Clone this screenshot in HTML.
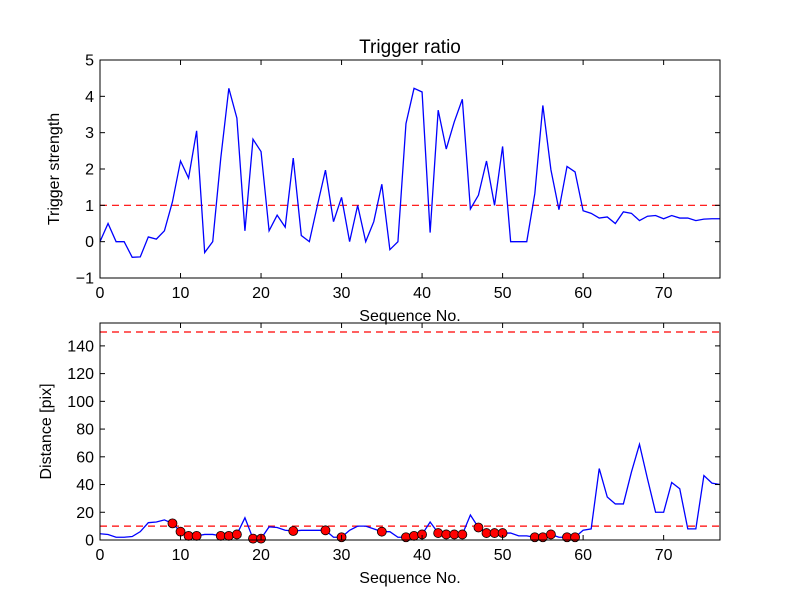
<!DOCTYPE html>
<html><head><meta charset="utf-8"><style>
body{margin:0;background:#fff;}
svg{display:block;font-family:"Liberation Sans","DejaVu Sans",sans-serif;}
</style></head><body>
<svg id="chart" width="800" height="600"></svg>
<script>
const xs = Array.from({length:78},(_,i)=>i);
const strength = [0,0.5,0,0,-0.43,-0.42,0.13,0.07,0.3,1.1,2.22,1.75,3.05,-0.3,0,2.3,4.22,3.4,0.3,2.82,2.48,0.3,0.73,0.4,2.3,0.17,0,1.0,1.97,0.55,1.22,0,1.0,0,0.55,1.58,-0.22,0,3.25,4.22,4.12,0.25,3.62,2.55,3.3,3.92,0.9,1.28,2.22,1.0,2.62,0,0,0,1.32,3.75,1.98,0.88,2.07,1.92,0.85,0.78,0.65,0.68,0.5,0.82,0.78,0.58,0.7,0.72,0.63,0.72,0.65,0.65,0.58,0.62,0.63,0.63];
const distance = [4.5,4,2,2,2.5,6,12.5,13,14.5,12,6,3,3,4,4,3,3,4,16,1,1,9.5,9,7,6.5,7,7,7,7,2,2,7,10,10,8,6,6,2,2,3,4,13,5,4,4,4,18,9,5,5,5,5,3,3,2,2,4,2,2,2,7,8,51.5,31,26,26,49,69,44,20,20,41.5,37,8,8,46.5,41,40];
const markerIdx = [9,10,11,12,15,16,17,19,20,24,28,30,35,38,39,40,42,43,44,45,47,48,49,50,54,55,56,58,59];
const topTicks = [-1,0,1,2,3,4,5];
const botTicks = [0,20,40,60,80,100,120,140];
const xTicks = [0,10,20,30,40,50,60,70];
const topThreshold = 1, botThreshold1 = 10, botThreshold2 = 150;

const NS="http://www.w3.org/2000/svg";
const svg=document.getElementById('chart');
function mk(tag,attrs,parent){const e=document.createElementNS(NS,tag);for(const k in attrs)e.setAttribute(k,attrs[k]);(parent||svg).appendChild(e);return e;}
const X0=100,X1=720;
const sx=v=>X0+(v-0)/(77-0)*(X1-X0);

function panel(name,Y0,Y1,ymin,ymax,yticks,ydata,ylabel,ylabX,thresholds,markers){
  const sy=v=>Y1-(v-ymin)/(ymax-ymin)*(Y1-Y0);
  const g=mk('g',{});
  
  
  thresholds.forEach(t=>{
    const l=mk('line',{x1:X0,x2:X1,y1:sy(t),y2:sy(t),stroke:'#ff0000','stroke-width':1.2,'stroke-dasharray':'7,5'},g);
    
    
  });
  const p=mk('polyline',{points:xs.map((x,i)=>sx(x)+','+sy(ydata[i])).join(' '),fill:'none',stroke:'#0000ff','stroke-width':1.3},g);
  
  
  if(markers){markers.forEach(i=>{
    const c=mk('circle',{cx:sx(xs[i]),cy:sy(ydata[i]),r:4.5,fill:'#ff0000',stroke:'#000','stroke-width':0.8},g);
    
    
  });}
  const fr=mk('rect',{x:X0,y:Y0,width:X1-X0,height:Y1-Y0,fill:'none',stroke:'#000','stroke-width':1},g);
  
  
  yticks.forEach(t=>{
    const y=sy(t);
    mk('line',{x1:X0,x2:X0+5,y1:y,y2:y,stroke:'#000'},g);
    mk('line',{x1:X1-5,x2:X1,y1:y,y2:y,stroke:'#000'},g);
    const tx=mk('text',{x:X0-6,y:y+5.5,'text-anchor':'end','font-size':16},g);
    tx.textContent=t<0?'\u2212'+(-t):t;
    
    
  });
  xTicks.forEach(t=>{
    const x=sx(t);
    mk('line',{x1:x,x2:x,y1:Y1,y2:Y1-5,stroke:'#000'},g);
    mk('line',{x1:x,x2:x,y1:Y0,y2:Y0+5,stroke:'#000'},g);
    const tx=mk('text',{x:x,y:Y1+20,'text-anchor':'middle','font-size':16},g);
    tx.textContent=t;
    
    
  });
  const xl=mk('text',{x:(X0+X1)/2,y:Y1+43,'text-anchor':'middle','font-size':16},g);
  xl.textContent='Sequence No.';
  
  
  const yl=mk('text',{x:0,y:0,'text-anchor':'middle','font-size':16,transform:`translate(${ylabX},${(Y0+Y1)/2}) rotate(-90)`},g);
  yl.textContent=ylabel;
  
  
}
panel('top-panel',60,278,-1,5,topTicks,strength,'Trigger strength',59,[topThreshold],null);
panel('bottom-panel',323,540,0,156.5,botTicks,distance,'Distance [pix]',51,[botThreshold1,botThreshold2],markerIdx);
const title=mk('text',{x:410,y:53,'text-anchor':'middle','font-size':19});
title.textContent='Trigger ratio';


</script>
</body></html>
